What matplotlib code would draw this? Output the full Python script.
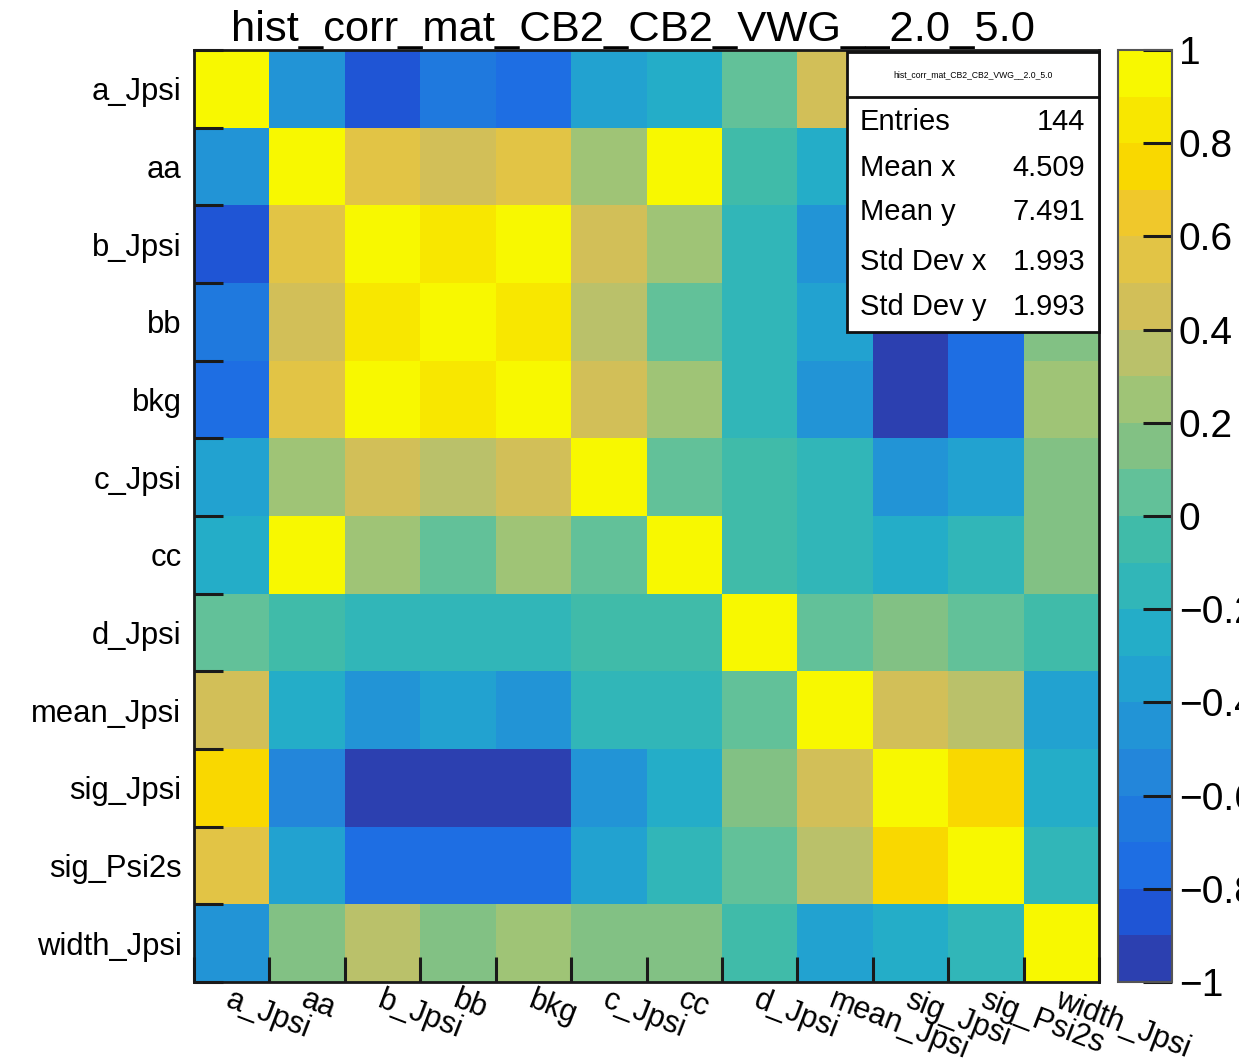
import numpy as np
import matplotlib
matplotlib.use("Agg")
import matplotlib.pyplot as plt
import matplotlib.transforms as mtransforms
from matplotlib.colors import ListedColormap, BoundaryNorm
from matplotlib.patches import Rectangle
from matplotlib.lines import Line2D

plt.rcParams['font.family'] = ['Liberation Sans', 'DejaVu Sans']

# ---------------- data ----------------
title = "hist_corr_mat_CB2_CB2_VWG__2.0_5.0"
params = ["a_Jpsi", "aa", "b_Jpsi", "bb", "bkg", "c_Jpsi", "cc",
          "d_Jpsi", "mean_Jpsi", "sig_Jpsi", "sig_Psi2s", "width_Jpsi"]

row_a_Jpsi     = [1.00, -0.45, -0.85, -0.65, -0.75, -0.35, -0.25, 0.05, 0.45, 0.75, 0.55, -0.45]
row_aa         = [-0.45, 1.00, 0.55, 0.45, 0.55, 0.25, 0.95, -0.05, -0.25, -0.55, -0.35, 0.15]
row_b_Jpsi     = [-0.85, 0.55, 1.00, 0.85, 0.95, 0.45, 0.25, -0.15, -0.45, -0.95, -0.75, 0.35]
row_bb         = [-0.65, 0.45, 0.85, 1.00, 0.85, 0.35, 0.05, -0.15, -0.35, -0.95, -0.75, 0.15]
row_bkg        = [-0.75, 0.55, 0.95, 0.85, 1.00, 0.45, 0.25, -0.15, -0.45, -0.95, -0.75, 0.25]
row_c_Jpsi     = [-0.35, 0.25, 0.45, 0.35, 0.45, 1.00, 0.05, -0.05, -0.15, -0.45, -0.35, 0.15]
row_cc         = [-0.25, 0.95, 0.25, 0.05, 0.25, 0.05, 1.00, -0.05, -0.15, -0.25, -0.15, 0.15]
row_d_Jpsi     = [0.05, -0.05, -0.15, -0.15, -0.15, -0.05, -0.05, 1.00, 0.05, 0.15, 0.05, -0.05]
row_mean_Jpsi  = [0.45, -0.25, -0.45, -0.35, -0.45, -0.15, -0.15, 0.05, 1.00, 0.45, 0.35, -0.35]
row_sig_Jpsi   = [0.75, -0.55, -0.95, -0.95, -0.95, -0.45, -0.25, 0.15, 0.45, 1.00, 0.75, -0.25]
row_sig_Psi2s  = [0.55, -0.35, -0.75, -0.75, -0.75, -0.35, -0.15, 0.05, 0.35, 0.75, 1.00, -0.15]
row_width_Jpsi = [-0.45, 0.15, 0.35, 0.15, 0.25, 0.15, 0.15, -0.05, -0.35, -0.25, -0.15, 1.00]

stats_labels = ["Entries", "Mean x", "Mean y", "Std Dev x", "Std Dev y"]
stats_values = ["144", "4.509", "7.491", "1.993", "1.993"]

cbar_ticks = [-1, -0.8, -0.6, -0.4, -0.2, 0, 0.2, 0.4, 0.6, 0.8, 1]

# palette (20 discrete levels, low -> high)
palette = ["#2C40B0", "#1F55D5", "#1E6EE3", "#1F79DE", "#2386DA",
           "#2294D6", "#22A2D0", "#24ADC8", "#31B6B8", "#40BBA9",
           "#62C199", "#82C184", "#9FC476", "#BAC16A", "#D2BF58",
           "#E2C445", "#F0C82B", "#F9D800", "#F8E700", "#F8F800"]

M = np.array([row_a_Jpsi, row_aa, row_b_Jpsi, row_bb, row_bkg, row_c_Jpsi,
              row_cc, row_d_Jpsi, row_mean_Jpsi, row_sig_Jpsi, row_sig_Psi2s,
              row_width_Jpsi])

# ---------------- figure ----------------
W, H = 1239, 1063
fig = plt.figure(figsize=(W / 100, H / 100), dpi=100)
fig.patch.set_facecolor("white")

def fx(x):
    return x / W

def fy(y):
    return 1 - y / H

ax_l, ax_r, ax_t, ax_b = 194, 1099, 50, 982
ax = fig.add_axes([fx(ax_l), fy(ax_b), fx(ax_r) - fx(ax_l), fy(ax_t) - fy(ax_b)])

cmap = ListedColormap(palette)
cmap.set_over(palette[-1])
cmap.set_under(palette[0])
bounds = np.linspace(-1, 1, 21)
norm = BoundaryNorm(bounds, cmap.N, clip=True)

n = len(params)
edges = np.arange(n + 1)
mesh = ax.pcolormesh(edges, edges, M, cmap=cmap, norm=norm)
ax.set_xlim(0, n)
ax.set_ylim(n, 0)

# ticks at bin boundaries
ax.set_xticks(edges)
ax.set_yticks(edges)
ax.set_xticklabels([])
ax.set_yticklabels([])
ax.tick_params(axis='both', which='major', direction='in', length=18,
               width=2.2, color='#1a1a1a', top=False, right=False)
ax.tick_params(axis='y', which='major', length=21)
# y labels via minor ticks at centers
centers = np.arange(n) + 0.5
ax.set_yticks(centers, minor=True)
ax.set_yticklabels(params, minor=True, fontsize=22.3)
ax.tick_params(axis='y', which='minor', length=0, pad=9)
ax.set_xticks([], minor=True)

# x labels rotated
trans = mtransforms.blended_transform_factory(ax.transData, ax.transAxes)
for i, p in enumerate(params):
    t = mtransforms.offset_copy(trans, fig=fig, x=1, y=-3, units='dots')
    ax.text(i + 0.5, 0, p, transform=t, ha='left', va='top',
            rotation=-21, rotation_mode='anchor', fontsize=22.0)

for s in ax.spines.values():
    s.set_linewidth(2.0)
    s.set_color('#1a1a1a')

# title
fig.text(fx(633), fy(41), title, ha='center', va='baseline', fontsize=31.3)

# colorbar
cb_l, cb_r = 1118, 1172
cax = fig.add_axes([fx(cb_l), fy(ax_b), fx(cb_r) - fx(cb_l), fy(ax_t) - fy(ax_b)])
cb = fig.colorbar(mesh, cax=cax, ticks=cbar_ticks)
cb.set_ticklabels(["1" if v == 1 else ("0" if v == 0 else ("\u22121" if v == -1 else
                   ("%.1f" % v).replace("-", "\u2212"))) for v in cbar_ticks])
cax.minorticks_off()
cax.tick_params(axis='y', which='major', direction='in', length=21, width=2.2,
                color='#1a1a1a', labelsize=28, pad=5)
cb.outline.set_linewidth(1.5)
cb.outline.set_edgecolor('#555555')

# stats box
sx0, sx1, sy0, sy1 = 847, 1099, 52, 332
box = Rectangle((fx(sx0), fy(sy1)), fx(sx1) - fx(sx0), fy(sy0) - fy(sy1),
                transform=fig.transFigure, facecolor='white',
                edgecolor='#111111', linewidth=2.0, zorder=5)
fig.add_artist(box)
fig.add_artist(Line2D([fx(sx0), fx(sx1)], [fy(97), fy(97)],
                      transform=fig.transFigure, color='#111111',
                      linewidth=2.0, zorder=6))
fig.text(fx((sx0 + sx1) / 2), fy(75), title, ha='center', va='center',
         fontsize=6.2, zorder=7)
row_y = [122, 168, 212, 262, 307]
for lab, val, yy in zip(stats_labels, stats_values, row_y):
    fig.text(fx(860), fy(yy), lab, ha='left', va='center', fontsize=21, zorder=7)
    fig.text(fx(1085), fy(yy), val, ha='right', va='center', fontsize=21, zorder=7)

fig.savefig("out.png", dpi=100)
